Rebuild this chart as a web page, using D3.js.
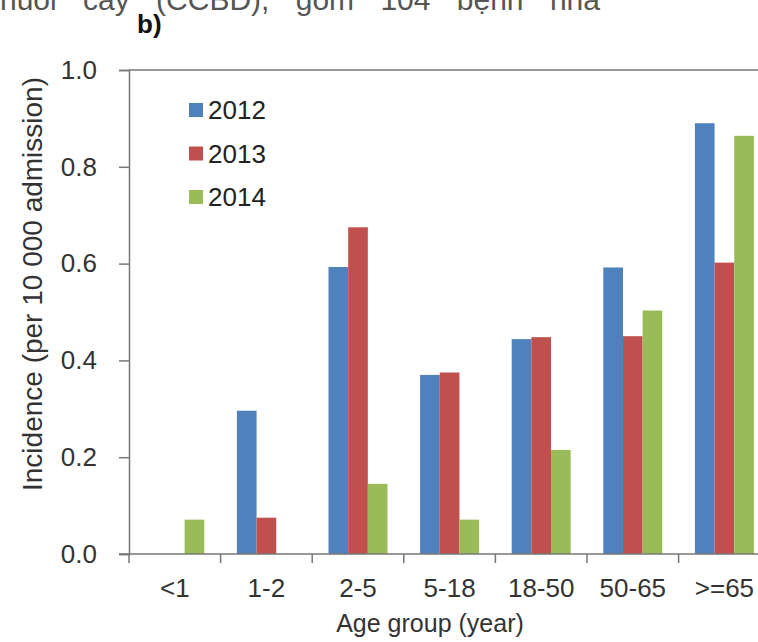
<!DOCTYPE html>
<html>
<head>
<meta charset="utf-8">
<script src="https://cdn.jsdelivr.net/npm/d3@7"></script>
<style>
  html, body { margin: 0; padding: 0; background: #fff; }
  svg { display: block; font-family: "Liberation Sans", Arial, sans-serif; }
</style>
</head>
<body>
<svg id="chart" width="758" height="642"></svg>
<script>
// Age groups along the x axis
const ageGroups = ["<1", "1-2", "2-5", "5-18", "18-50", "50-65", ">=65"];
// Survey years, one bar per year in each group
const years = ["2012", "2013", "2014"];
// Incidence per 10 000 admissions, by year
const incidence2012 = [0, 0.296, 0.593, 0.370, 0.444, 0.592, 0.890];
const incidence2013 = [0, 0.075, 0.675, 0.375, 0.448, 0.450, 0.602];
const incidence2014 = [0.071, 0, 0.145, 0.071, 0.215, 0.503, 0.864];
const yTicks = [0, 0.2, 0.4, 0.6, 0.8, 1.0];
const yearColors = ["#4F81BD", "#C0504D", "#9BBB59"];

const seriesValues = [incidence2012, incidence2013, incidence2014];
const rows = [];
ageGroups.forEach((g, i) => {
  years.forEach((yr, j) => rows.push({ group: g, year: yr, value: seriesValues[j][i] }));
});

const svg = d3.select("#chart");
const plotLeft = 129, plotTop = 70, plotBottom = 554;
const plotRight = plotLeft + 91.6 * ageGroups.length;

const x = d3.scaleBand().domain(ageGroups).range([plotLeft, plotRight]).padding(0);
const xYear = d3.scaleBand().domain(years).range([0, x.bandwidth()])
  .paddingInner(0).paddingOuter(0.83);
const y = d3.scaleLinear().domain([0, 1]).range([plotBottom, plotTop]);

// Caption line (justified paragraph text) running off the top edge
svg.append("text")
  .attr("x", 0).attr("y", 10)
  .attr("font-size", 30).attr("fill", "#555")
  .attr("word-spacing", 18)
  .text("nuôi cấy (CCBD), gồm 104 bệnh nhâ");

// Panel letter
svg.append("text")
  .attr("x", 137).attr("y", 33)
  .attr("font-size", 26).attr("font-weight", "bold").attr("fill", "#111")
  .text("b)");

// Bars
svg.append("g").selectAll("rect")
  .data(rows.filter(d => d.value > 0))
  .join("rect")
  .attr("x", d => x(d.group) + xYear(d.year))
  .attr("width", xYear.bandwidth())
  .attr("y", d => y(d.value))
  .attr("height", d => y(0) - y(d.value))
  .attr("fill", d => yearColors[years.indexOf(d.year)]);

// Plot frame (top edge)
svg.append("line")
  .attr("x1", plotLeft).attr("x2", plotRight)
  .attr("y1", plotTop).attr("y2", plotTop)
  .attr("stroke", "#777").attr("stroke-width", 1.5);

// Y axis
const yAxis = svg.append("g")
  .attr("transform", `translate(${plotLeft},0)`)
  .call(d3.axisLeft(y).tickValues(yTicks).tickFormat(d3.format(".1f"))
    .tickSizeOuter(0).tickSize(10).tickPadding(22));

// X axis
const xAxis = svg.append("g")
  .attr("transform", `translate(0,${plotBottom})`)
  .call(d3.axisBottom(x).tickSize(0).tickSizeOuter(0).tickPadding(25));

// Category boundary ticks
xAxis.selectAll(".boundary")
  .data(ageGroups)
  .join("line")
  .attr("class", "boundary")
  .attr("x1", d => x(d)).attr("x2", d => x(d))
  .attr("y1", 0).attr("y2", 9);

[yAxis, xAxis].forEach(ax => {
  ax.select(".domain").attr("stroke", "#777").attr("stroke-width", 1.5);
  ax.selectAll("line").attr("stroke", "#777").attr("stroke-width", 1.5);
  ax.selectAll("text").attr("font-size", 26).attr("fill", "#333")
    .attr("font-family", "Liberation Sans, Arial, sans-serif");
});
xAxis.select(".domain").attr("d", `M${plotLeft - 10},0H${plotRight}`);

// Axis titles
svg.append("text")
  .attr("transform", `translate(42,${(78 + 490) / 2}) rotate(-90)`)
  .attr("text-anchor", "middle")
  .attr("font-size", 28).attr("fill", "#333")
  .text("Incidence (per 10 000 admission)");

svg.append("text")
  .attr("x", 430).attr("y", 632)
  .attr("text-anchor", "middle")
  .attr("font-size", 25).attr("fill", "#333")
  .text("Age group (year)");

// Legend
const legend = svg.append("g").selectAll("g")
  .data(years)
  .join("g")
  .attr("transform", (d, i) => `translate(189,${110 + i * 43.5})`);
legend.append("rect")
  .attr("x", 0).attr("y", -7).attr("width", 14).attr("height", 14)
  .attr("fill", (d, i) => yearColors[i]);
legend.append("text")
  .attr("x", 19).attr("y", 9)
  .attr("font-size", 26).attr("fill", "#222")
  .text(d => d);
</script>
</body>
</html>
